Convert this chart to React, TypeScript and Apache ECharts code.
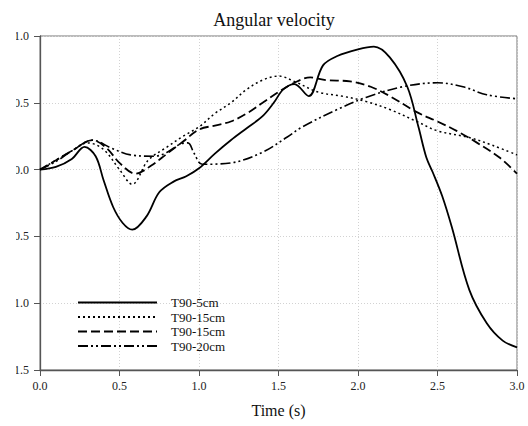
import React, { useEffect, useRef } from "react";
import * as echarts from "echarts";

const seriesNames = ["T90-5cm", "T90-15cm", "T90-15cm ", "T90-20cm"];

const timeA = [0, 0.1, 0.2, 0.28, 0.35, 0.4, 0.46, 0.52, 0.58, 0.67, 0.75, 0.84, 0.92, 1.0, 1.1, 1.2, 1.3, 1.4, 1.47, 1.53, 1.6, 1.69, 1.78, 1.87, 2.0, 2.1, 2.2, 2.31, 2.38, 2.43, 2.47, 2.53, 2.59, 2.7, 2.81, 2.91, 3.0];
const valueA = [0, 0.02, 0.08, 0.17, 0.1, -0.08, -0.28, -0.4, -0.45, -0.35, -0.17, -0.09, -0.05, 0.01, 0.12, 0.22, 0.31, 0.4, 0.5, 0.6, 0.64, 0.55, 0.78, 0.85, 0.9, 0.92, 0.84, 0.62, 0.32, 0.09, -0.02, -0.2, -0.43, -0.9, -1.15, -1.28, -1.33];

const timeB = [0, 0.1, 0.2, 0.3, 0.4, 0.5, 0.58, 0.68, 0.8, 0.9, 1.0, 1.1, 1.2, 1.3, 1.4, 1.5, 1.6, 1.75, 1.9, 2.05, 2.2, 2.37, 2.5, 2.7, 2.85, 3.0];
const valueB = [0, 0.07, 0.14, 0.2, 0.15, 0.0, -0.11, 0.07, 0.17, 0.25, 0.32, 0.42, 0.5, 0.6, 0.67, 0.7, 0.66, 0.58, 0.55, 0.51, 0.45, 0.36, 0.29, 0.24, 0.18, 0.11];

const timeC = [0, 0.1, 0.2, 0.33, 0.42, 0.5, 0.6, 0.7, 0.8, 0.9, 1.0, 1.1, 1.2, 1.3, 1.4, 1.5, 1.6, 1.7, 1.8, 1.95, 2.08, 2.2, 2.37, 2.5, 2.62, 2.75, 2.89, 3.0];
const valueC = [0, 0.07, 0.14, 0.22, 0.16, 0.05, -0.03, 0.03, 0.12, 0.21, 0.3, 0.33, 0.36, 0.42, 0.5, 0.58, 0.65, 0.69, 0.67, 0.66, 0.62, 0.55, 0.43, 0.36, 0.29, 0.2, 0.09, -0.03];

const timeD = [0, 0.1, 0.2, 0.33, 0.45, 0.57, 0.72, 0.8, 0.88, 0.93, 0.97, 1.02, 1.2, 1.4, 1.55, 1.65, 1.87, 2.05, 2.28, 2.5, 2.66, 2.81, 3.0];
const valueD = [0, 0.06, 0.14, 0.22, 0.16, 0.11, 0.1, 0.13, 0.19, 0.2, 0.12, 0.04, 0.05, 0.13, 0.24, 0.32, 0.45, 0.54, 0.62, 0.65, 0.62, 0.56, 0.53];

const xTicks = [0, 0.5, 1, 1.5, 2, 2.5, 3];
const yTicks = [-1.5, -1, -0.5, 0, 0.5, 1];

const FONT = "Liberation Serif";

function pairs(t: number[], v: number[]) {
  return t.map((x, i) => [x, v[i]]);
}

export default function App() {
  const ref = useRef<HTMLDivElement>(null);
  useEffect(() => {
    if (!ref.current) return;
    const chart = echarts.init(ref.current, undefined, { renderer: "svg" });
    const lineTypes: any[] = ["solid", [2, 3], [9, 4], [10, 3, 2, 3, 2, 3]];
    const widths = [1.8, 1.5, 1.8, 1.6];
    const datas = [pairs(timeA, valueA), pairs(timeB, valueB), pairs(timeC, valueC), pairs(timeD, valueD)];
    chart.setOption({
      animation: false,
      backgroundColor: "#ffffff",
      title: {
        text: "Angular velocity",
        left: 269,
        textAlign: "center",
        top: 6,
        textStyle: { fontFamily: FONT, fontSize: 18, fontWeight: "normal", color: "#111" },
      },
      grid: { left: 40, right: 11, top: 36, bottom: 56, show: true, borderColor: "#777", borderWidth: 1 },
      legend: {
        orient: "vertical",
        left: 72,
        top: 291,
        itemWidth: 79,
        itemHeight: 14,
        itemGap: 1.5,
        data: seriesNames,
        itemStyle: { opacity: 0 },
        textStyle: { fontFamily: FONT, fontSize: 13, color: "#111", padding: [0, 0, 0, 9] },
      },
      xAxis: {
        type: "value",
        min: 0,
        max: 3,
        interval: 0.5,
        name: "Time (s)",
        nameLocation: "middle",
        nameGap: 32,
        nameTextStyle: { fontFamily: FONT, fontSize: 16, color: "#111" },
        axisLine: { show: true, onZero: false, lineStyle: { color: "#555", width: 1.3 } },
        axisTick: { show: true, inside: false, length: 6, lineStyle: { color: "#555" } },
        axisLabel: {
          fontFamily: FONT,
          fontSize: 12,
          color: "#222",
          margin: 10,
          formatter: (v: number) => (xTicks.indexOf(v) >= 0 ? v.toFixed(1) : ""),
        },
        splitLine: { show: true, lineStyle: { color: "#d2d2d2", type: [1, 2] } },
      },
      yAxis: {
        type: "value",
        min: -1.5,
        max: 1,
        interval: 0.5,
        axisLine: { show: true, onZero: false, lineStyle: { color: "#555", width: 1.3 } },
        axisTick: { show: true, inside: false, length: 6, lineStyle: { color: "#555" } },
        axisLabel: {
          fontFamily: FONT,
          fontSize: 12,
          color: "#222",
          margin: 11,
          formatter: (v: number) => (yTicks.indexOf(v) >= 0 ? v.toFixed(1) : ""),
        },
        splitLine: { show: true, lineStyle: { color: "#d2d2d2", type: [1, 2] } },
      },
      series: seriesNames.map((name, i) => ({
        name,
        type: "line",
        data: datas[i],
        smooth: 0.35,
        symbol: "none",
        lineStyle: { color: "#000", width: widths[i], type: lineTypes[i] },
        itemStyle: { color: "#000" },
      })),
    });
    return () => chart.dispose();
  }, []);
  return (
    <div style={{ position: "fixed", left: 0, top: 0, width: 528, height: 426, overflow: "hidden", background: "#fff" }}>
      <div ref={ref} style={{ position: "absolute", left: 0, top: 0, width: 528, height: 426, clipPath: "inset(0px 0px 0px 16px)" }} />
    </div>
  );
}
